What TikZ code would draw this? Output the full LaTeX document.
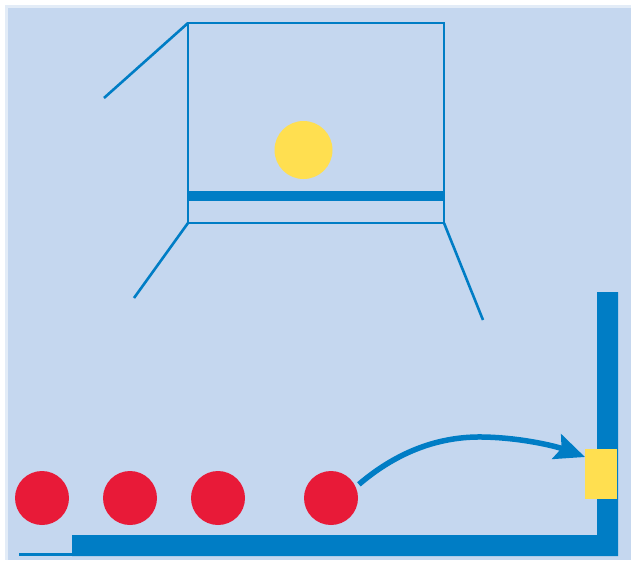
\documentclass[tikz,border=0pt]{standalone}
\usetikzlibrary{arrows.meta}

\definecolor{skyback}{HTML}{C5D7EF}
\definecolor{skyedge}{HTML}{E3ECF7}
\definecolor{wireblue}{HTML}{007DC5}
\definecolor{ballred}{HTML}{E81A38}
\definecolor{ballyellow}{HTML}{FFDF50}

\tikzset{
    redball/.style={circle, fill=ballred, minimum size=54pt, inner sep=0pt},
    wire/.style={wireblue, line width=2.6pt},
}

\begin{document}
\begin{tikzpicture}[x=1pt, y=-1pt]
    \useasboundingbox (0,0) rectangle (631,560);

    % Background
    \fill[skyedge] (5,5) rectangle (631,560);
    \fill[skyback] (8,8) rectangle (631,560);

    % Upper box with its three lines
    \node[draw=wireblue, line width=2.6pt, minimum width=256pt, minimum height=200pt, inner sep=0pt, outer sep=0pt] (cage) at (316,123) {};
    \coordinate (armA) at (104,98);
    \coordinate (armB) at (134,298);
    \coordinate (armC) at (483,320);
    \draw[wire] (cage.north west) -- (armA);
    \draw[wire] (cage.south west) -- (armB);
    \draw[wire] (cage.south east) -- (armC);

    % Thick shelf and yellow ball
    \fill[wireblue] (188,191) rectangle (444,201);
    \node[circle, fill=ballyellow, minimum size=58pt, inner sep=0pt] (sun) at (303.5,150) {};

    % Floor and wall
    \draw[wireblue, line width=2.5pt] (19,554.7) -- (72,554.7);
    \fill[wireblue] (72,535) -- (597,535) -- (597,292) -- (618,292) -- (618,556) -- (72,556) -- cycle;

    % Yellow target
    \node[fill=ballyellow, minimum width=32pt, minimum height=50pt, inner sep=0pt] (pad) at (601,474) {};

    % Red balls
    \node[redball] (ballA) at (42,498) {};
    \node[redball] (ballB) at (130,498) {};
    \node[redball] (ballC) at (218,498) {};
    \node[redball] (ballD) at (331,498) {};

    % Arrow to the target
    \coordinate (tip) at (585,457);
    \coordinate (peak) at (483,437);
    \draw[wireblue, line width=5.5pt, -{Stealth[length=30pt, width=26pt, inset=5pt]}, shorten <=4pt]
        (ballD.24) .. controls (398,451) and (440,436.2) .. (peak) .. controls (521,437.7) and (555,446) .. (tip);
\end{tikzpicture}
\end{document}
